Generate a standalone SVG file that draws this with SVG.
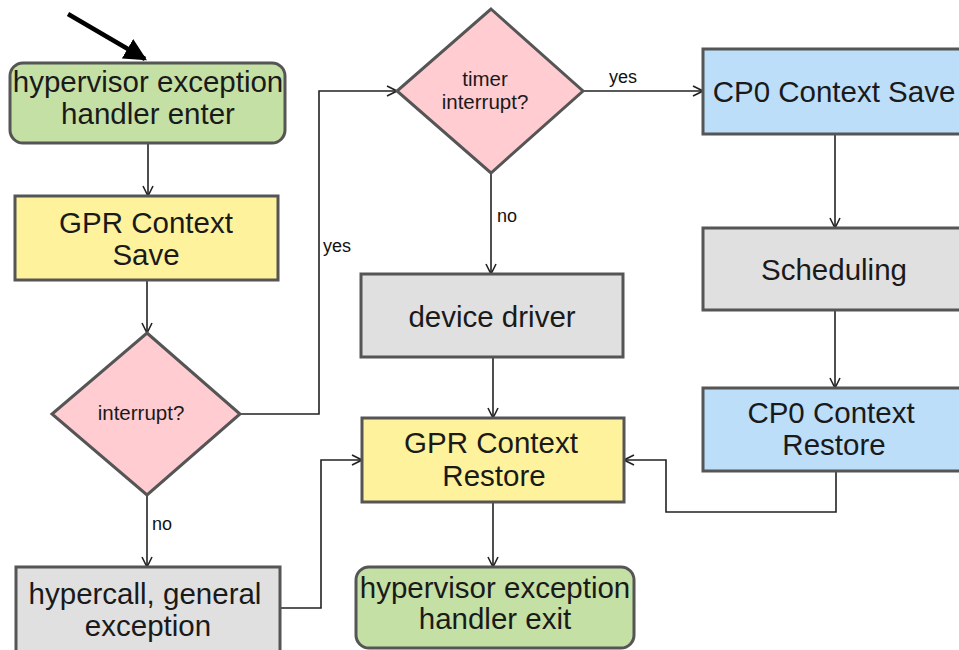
<svg xmlns="http://www.w3.org/2000/svg" width="959" height="650" viewBox="0 0 959 650">
  <style>
    .node { stroke: #555555; stroke-width: 3; }
    .green { fill: #c5e0a4; }
    .yellow { fill: #fff29c; }
    .gray { fill: #e0e0e0; }
    .blue { fill: #bcdef9; }
    .pink { fill: #ffccd2; }
    .t { font-family: "Liberation Sans", Arial, sans-serif; font-size: 29.5px; fill: #1a1a1a; text-anchor: middle; }
    .q { font-family: "Liberation Sans", Arial, sans-serif; font-size: 20.5px; fill: #1a1a1a; text-anchor: middle; }
    .lbl { font-family: "Liberation Sans", Arial, sans-serif; font-size: 18px; fill: #111111; }
    .edge { fill: none; stroke: #222222; stroke-width: 1.6; marker-end: url(#open); }
  </style>
  <defs>
    <marker id="open" viewBox="0 0 12 12" refX="11" refY="6" markerWidth="12" markerHeight="12" markerUnits="userSpaceOnUse" orient="auto">
      <path d="M1,1 L11,6 L1,11" fill="none" stroke="#222222" stroke-width="1.6"/>
    </marker>
    <marker id="solid" viewBox="0 0 10 10" refX="9" refY="5" markerWidth="5" markerHeight="5" orient="auto">
      <path d="M0,0 L10,5 L0,10 Z" fill="#000000"/>
    </marker>
  </defs>

  <rect width="959" height="650" fill="#ffffff"/>

  <!-- connectors -->
  <g id="connectors">
    <line x1="68" y1="14" x2="145" y2="59" stroke="#000000" stroke-width="4.5" marker-end="url(#solid)"/>
    <path class="edge" d="M148,143 V196"/>
    <path class="edge" d="M147,280 V333"/>
    <path class="edge" d="M240,414 H319 V91 H397"/>
    <path class="edge" d="M147,495 V567"/>
    <path class="edge" d="M583,91 H703"/>
    <path class="edge" d="M491,173 V274"/>
    <path class="edge" d="M493,357 V418"/>
    <path class="edge" d="M835,134 V228"/>
    <path class="edge" d="M835,310 V388"/>
    <path class="edge" d="M836,471 V512 H666 V460 H624"/>
    <path class="edge" d="M280,608 H321 V460 H362"/>
    <path class="edge" d="M493,502 V567"/>
    <text class="lbl" x="323" y="252">yes</text>
    <text class="lbl" x="152" y="530">no</text>
    <text class="lbl" x="609" y="83">yes</text>
    <text class="lbl" x="497" y="222">no</text>
  </g>

  <g id="enter">
    <rect class="node green" x="10" y="63" width="275" height="80" rx="13"/>
    <text class="t" x="148" y="92">hypervisor exception</text>
    <text class="t" x="148" y="124">handler enter</text>
  </g>

  <g id="gpr-save">
    <rect class="node yellow" x="15" y="196" width="263" height="84"/>
    <text class="t" x="146" y="233">GPR Context</text>
    <text class="t" x="146" y="265">Save</text>
  </g>

  <g id="interrupt">
    <polygon class="node pink" points="147,333 240,414 147,495 52,414"/>
    <text class="q" x="141" y="420">interrupt?</text>
  </g>

  <g id="hypercall">
    <rect class="node gray" x="16" y="567" width="264" height="90"/>
    <text class="t" x="145" y="604">hypercall, general</text>
    <text class="t" x="148" y="636">exception</text>
  </g>

  <g id="timer">
    <polygon class="node pink" points="491,9 583,91 491,173 397,91"/>
    <text class="q" x="485" y="86">timer</text>
    <text class="q" x="485" y="109">interrupt?</text>
  </g>

  <g id="cp0-save">
    <rect class="node blue" x="703" y="49" width="270" height="85"/>
    <text class="t" x="834" y="102">CP0 Context Save</text>
  </g>

  <g id="scheduling">
    <rect class="node gray" x="703" y="228" width="270" height="82"/>
    <text class="t" x="834" y="280">Scheduling</text>
  </g>

  <g id="cp0-restore">
    <rect class="node blue" x="703" y="388" width="270" height="83"/>
    <text class="t" x="831" y="423">CP0 Context</text>
    <text class="t" x="834" y="455">Restore</text>
  </g>

  <g id="device-driver">
    <rect class="node gray" x="361" y="274" width="262" height="83"/>
    <text class="t" x="492" y="327">device driver</text>
  </g>

  <g id="gpr-restore">
    <rect class="node yellow" x="362" y="418" width="262" height="84"/>
    <text class="t" x="491" y="453">GPR Context</text>
    <text class="t" x="494" y="486">Restore</text>
  </g>

  <g id="exit">
    <rect class="node green" x="356" y="567" width="278" height="81" rx="13"/>
    <text class="t" x="495" y="598">hypervisor exception</text>
    <text class="t" x="495" y="629">handler exit</text>
  </g>
</svg>
